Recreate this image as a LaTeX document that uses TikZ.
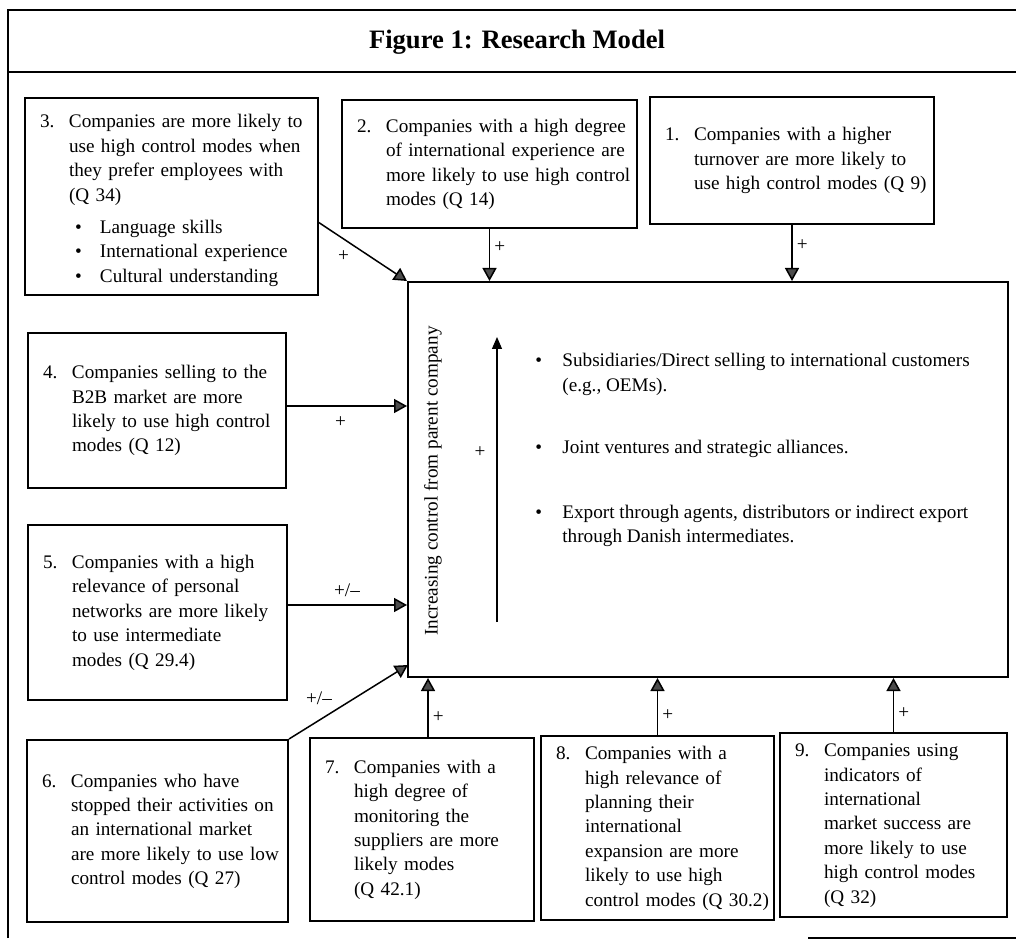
\documentclass[tikz,border=0pt]{standalone}
\usepackage{fontspec}
\setmainfont{Liberation Serif}
\usetikzlibrary{arrows.meta}

\definecolor{headgray}{gray}{0.3}

% numbered text with hanging lines
\newcommand{\hypo}[3][14.5pt]{\makebox[#1][l]{#2}\begin{tabular}[t]{@{}l@{}}#3\end{tabular}}
\newcommand{\blt}{\hspace{3pt}\makebox[12.5pt][l]{\textbullet}}

\tikzset{
	hyp/.style = { draw, line width=1pt, inner xsep=7.5pt, inner ysep=0pt, align=left },
	link/.style = { line width=0.75pt, -{Triangle[width=7pt,length=6.5pt,fill=headgray]} },
	gain/.style = { inner sep=2pt },
	modeitem/.style = { anchor=base west, inner sep=0pt },
	frame/.style = { line width=0.8pt }
}

\begin{document}
\begin{tikzpicture}[x=0.5pt, y=-0.5pt, font=\fontsize{9.6}{12.2}\selectfont]
	\useasboundingbox ( 0, 0 ) rectangle ( 1016, 940 );

	% рамка и заголовок
	\coordinate (tl) at ( 8, 10 );
	\coordinate (tr) at ( 1016, 10 );
	\coordinate (bl) at ( 8, 938 );
	\coordinate (ml) at ( 8, 72 );
	\coordinate (mr) at ( 1016, 72 );
	\coordinate (br0) at ( 808, 938 );
	\coordinate (br1) at ( 1016, 938 );
	\draw [frame] (bl) -- (tl) -- (tr);
	\draw [frame] (ml) -- (mr);
	\draw [frame] (br0) -- (br1);
	\node [font=\fontsize{13.3}{16}\selectfont\bfseries] (title) at ( 517, 42 ) {Figure 1: Research Model};

	% модель
	\node [draw, line width=1pt, minimum width=300pt, minimum height=197.5pt] (main) at ( 708, 479.5 ) {};
	\node [rotate=90] (ctrl) at ( 433, 481 ) {Increasing control from parent company};
	\coordinate (low) at ( 497, 622 );
	\coordinate (high) at ( 497, 337 );
	\draw [line width=0.6pt, -{Triangle[width=5pt,length=6pt]}] (low) -- (high);
	\node [gain] (up) at ( 480, 452 ) {+};
	\node [modeitem] (subs) at ( 535, 367 ) {\hypo[13.5pt]{\textbullet}{Subsidiaries/Direct selling to international customers\\(e.g., OEMs).}};
	\node [modeitem] (joint) at ( 535, 453 ) {\hypo[13.5pt]{\textbullet}{Joint ventures and strategic alliances.}};
	\node [modeitem] (export) at ( 535, 518 ) {\hypo[13.5pt]{\textbullet}{Export through agents, distributors or indirect export\\through Danish intermediates.}};

	% гипотезы сверху
	\node [hyp, text width=131.5pt, minimum height=98.5pt] (box3) at ( 171.5, 196.5 ) {\rule{0pt}{6pt}\\[-6pt]\hypo{3.}{Companies are more likely to\\use high control modes when\\they prefer employees with\\(Q 34)\\[4pt]\blt Language skills\\\blt International experience\\\blt Cultural understanding}};
	\node [hyp, text width=132.5pt, minimum height=64pt] (box2) at ( 489.5, 164 ) {\hypo{2.}{Companies with a high degree\\of international experience are\\more likely to use high control\\modes (Q 14)}};
	\node [hyp, text width=127pt, minimum height=63.5pt] (box1) at ( 792, 160.5 ) {\hypo{1.}{Companies with a higher\\turnover are more likely to\\use high control modes (Q 9)}};

	% гипотезы слева
	\node [hyp, text width=114pt, minimum height=77.5pt] (box4) at ( 157, 410.5 ) {\hypo{4.}{Companies selling to the\\B2B market are more\\likely to use high control\\modes (Q 12)}};
	\node [hyp, text width=114.5pt, minimum height=87.5pt] (box5) at ( 157.5, 612.5 ) {\hypo{5.}{Companies with a high\\relevance of personal\\networks are more likely\\to use intermediate\\modes (Q 29.4)}};

	% гипотезы снизу
	\node [hyp, text width=115.5pt, minimum height=91pt] (box6) at ( 157.5, 831 ) {\hypo{6.}{Companies who have\\stopped their activities on\\an international market\\are more likely to use low\\control modes (Q 27)}};
	\node [hyp, text width=97pt, minimum height=91.5pt] (box7) at ( 422, 829.5 ) {\hypo{7.}{Companies with a\\high degree of\\monitoring the\\suppliers are more\\likely modes\\(Q 42.1)}};
	\node [hyp, text width=101.5pt, minimum height=92pt] (box8) at ( 657.5, 828 ) {\hypo{8.}{Companies with a\\high relevance of\\planning their\\international\\expansion are more\\likely to use high\\control modes (Q 30.2)}};
	\node [hyp, text width=98.5pt, minimum height=92pt] (box9) at ( 893.5, 825 ) {\hypo{9.}{Companies using\\indicators of\\international\\market success are\\more likely to use\\high control modes\\(Q 32)}};

	% связи
	\coordinate (out3) at ( 318, 222 );
	\coordinate (out4) at ( 286, 406 );
	\coordinate (out5) at ( 287, 605 );
	\coordinate (in6) at ( 408, 665 );
	\coordinate (out7) at ( 428, 738 );
	\draw [link] (out3) -- node [gain, below left, pos=0.4] {+} (main.north west);
	\draw [link] (box2.south) -- node [gain, right, pos=0.35] {+} (box2.south |- main.north);
	\draw [link] (box1.south) -- node [gain, right, pos=0.35] {+} (box1.south |- main.north);
	\draw [link] (out4) -- node [gain, below=3pt, pos=0.45] {+} (out4 -| main.west);
	\draw [link] (out5) -- node [gain, above=2pt, pos=0.5] {+/–} (out5 -| main.west);
	\draw [link] (box6.north east) -- node [gain, above left, pos=0.4] {+/–} (in6);
	\draw [link] (out7) -- node [gain, right, pos=0.35] {+} (out7 |- main.south);
	\draw [link] (box8.north) -- node [gain, right, pos=0.35] {+} (box8.north |- main.south);
	\draw [link] (box9.north) -- node [gain, right, pos=0.35] {+} (box9.north |- main.south);
\end{tikzpicture}
\end{document}
